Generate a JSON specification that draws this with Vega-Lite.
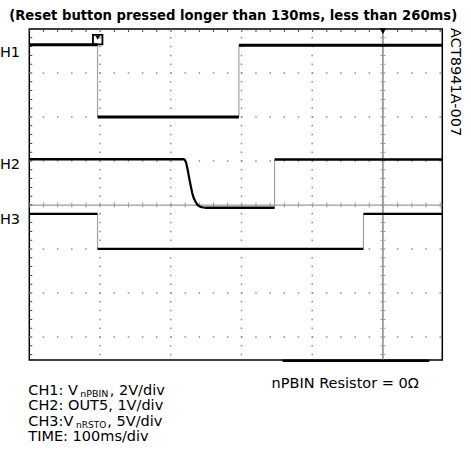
{
  "$schema": "https://vega.github.io/schema/vega-lite/v6.json",
  "width": 413,
  "height": 331,
  "autosize": {"type": "none"},
  "padding": {"left": 29.3, "top": 29, "right": 28.7, "bottom": 93},
  "background": "white",
  "config": {"view": {"stroke": "black", "strokeWidth": 1.5}, "font": "DejaVu Sans"},
  "data": {"values": [{}]},
  "datasets": {
    "hgrid": [{"v": 3}, {"v": 2}, {"v": 1}, {"v": -1}, {"v": -2}, {"v": -3}],
    "vgrid": [{"t": -400}, {"t": -300}, {"t": -200}, {"t": -100}],
    "levels": [
      {"ch": "CH1", "t1": -500, "t2": -403.5, "v": 3.64},
      {"ch": "CH1", "t1": -403.5, "t2": -203.6, "v": 2.0},
      {"ch": "CH1", "t1": -203.6, "t2": 84, "v": 3.63},
      {"ch": "CH2", "t1": -500, "t2": -280.2, "v": 1.04},
      {"ch": "CH2", "t1": -252, "t2": -153.2, "v": -0.06},
      {"ch": "CH2", "t1": -153.2, "t2": 84, "v": 1.035},
      {"ch": "CH3", "t1": -500, "t2": -403.5, "v": -0.2},
      {"ch": "CH3", "t1": -403.5, "t2": -27.5, "v": -0.995},
      {"ch": "CH3", "t1": -27.5, "t2": 84, "v": -0.2}
    ],
    "edges": [
      {"ch": "CH1", "t": -403.5, "v1": 3.64, "v2": 2.0},
      {"ch": "CH1", "t": -203.6, "v1": 2.0, "v2": 3.63},
      {"ch": "CH2", "t": -153.2, "v1": -0.06, "v2": 1.035},
      {"ch": "CH3", "t": -403.5, "v1": -0.2, "v2": -0.995},
      {"ch": "CH3", "t": -27.5, "v1": -0.995, "v2": -0.2}
    ],
    "decay": [
      {"t": -280.2, "v": 1.04},
      {"t": -278.1, "v": 0.955},
      {"t": -276.0, "v": 0.795},
      {"t": -273.9, "v": 0.614},
      {"t": -271.7, "v": 0.432},
      {"t": -269.6, "v": 0.273},
      {"t": -267.5, "v": 0.159},
      {"t": -264.7, "v": 0.068},
      {"t": -261.9, "v": 0.0},
      {"t": -257.7, "v": -0.041},
      {"t": -252.0, "v": -0.06}
    ]
  },
  "layer": [
    {
      "data": {"name": "hgrid"},
      "mark": {"type": "rule", "color": "#8c8c8c", "strokeWidth": 1.5, "strokeDash": [1.5, 12.668], "strokeDashOffset": 0.75},
      "encoding": {
        "y": {"field": "v", "type": "quantitative", "scale": {"domain": [-3.52, 4], "nice": false, "zero": false}, "axis": null},
        "x": {"datum": -500, "type": "quantitative", "scale": {"domain": [-500, 84], "nice": false, "zero": false}, "axis": null},
        "x2": {"datum": 84}
      }
    },
    {
      "data": {"name": "vgrid"},
      "mark": {"type": "rule", "color": "#8c8c8c", "strokeWidth": 1.5, "strokeDash": [1.5, 7.3], "strokeDashOffset": 0.75},
      "encoding": {
        "x": {"field": "t", "type": "quantitative", "scale": {"domain": [-500, 84], "nice": false, "zero": false}, "axis": null},
        "y": {"datum": 4, "type": "quantitative", "scale": {"domain": [-3.52, 4], "nice": false, "zero": false}, "axis": null},
        "y2": {"datum": -3.52}
      }
    },
    {
      "mark": {"type": "rule", "color": "#9a9a9a", "strokeWidth": 1.3},
      "encoding": {
        "y": {"datum": 0, "type": "quantitative", "scale": {"domain": [-3.52, 4], "nice": false, "zero": false}, "axis": null},
        "x": {"datum": -500, "type": "quantitative", "scale": {"domain": [-500, 84], "nice": false, "zero": false}, "axis": null},
        "x2": {"datum": 84}
      }
    },
    {
      "mark": {"type": "rule", "color": "#9a9a9a", "strokeWidth": 5, "strokeDash": [1, 13.168], "strokeDashOffset": 0.5},
      "encoding": {
        "y": {"datum": 0, "type": "quantitative", "scale": {"domain": [-3.52, 4], "nice": false, "zero": false}, "axis": null},
        "x": {"datum": -500, "type": "quantitative", "scale": {"domain": [-500, 84], "nice": false, "zero": false}, "axis": null},
        "x2": {"datum": 84}
      }
    },
    {
      "mark": {"type": "rule", "color": "#9a9a9a", "strokeWidth": 1.8},
      "encoding": {
        "x": {"datum": 0, "type": "quantitative", "scale": {"domain": [-500, 84], "nice": false, "zero": false}, "axis": null},
        "y": {"datum": 4, "type": "quantitative", "scale": {"domain": [-3.52, 4], "nice": false, "zero": false}, "axis": null},
        "y2": {"datum": -3.52}
      }
    },
    {
      "mark": {"type": "rule", "color": "#9a9a9a", "strokeWidth": 5, "strokeDash": [1, 7.8], "strokeDashOffset": 0.5},
      "encoding": {
        "x": {"datum": 0, "type": "quantitative", "scale": {"domain": [-500, 84], "nice": false, "zero": false}, "axis": null},
        "y": {"datum": 4, "type": "quantitative", "scale": {"domain": [-3.52, 4], "nice": false, "zero": false}, "axis": null},
        "y2": {"datum": -3.52}
      }
    },
    {
      "mark": {"type": "rule", "color": "#444444", "strokeWidth": 3, "strokeDash": [1, 7.8], "strokeDashOffset": 0.5},
      "encoding": {
        "x": {"datum": -497.9, "type": "quantitative", "scale": {"domain": [-500, 84], "nice": false, "zero": false}, "axis": null},
        "y": {"datum": 4, "type": "quantitative", "scale": {"domain": [-3.52, 4], "nice": false, "zero": false}, "axis": null},
        "y2": {"datum": -3.52}
      }
    },
    {
      "mark": {"type": "rule", "color": "#444444", "strokeWidth": 3, "strokeDash": [1, 13.168], "strokeDashOffset": 0.5},
      "encoding": {
        "y": {"datum": 3.966, "type": "quantitative", "scale": {"domain": [-3.52, 4], "nice": false, "zero": false}, "axis": null},
        "x": {"datum": -500, "type": "quantitative", "scale": {"domain": [-500, 84], "nice": false, "zero": false}, "axis": null},
        "x2": {"datum": 84}
      }
    },
    {
      "data": {"name": "edges"},
      "mark": {"type": "rule", "color": "#a0a0a0", "strokeWidth": 1.2},
      "encoding": {
        "x": {"field": "t", "type": "quantitative", "scale": {"domain": [-500, 84], "nice": false, "zero": false}, "axis": null},
        "y": {"field": "v1", "type": "quantitative", "scale": {"domain": [-3.52, 4], "nice": false, "zero": false}, "axis": null},
        "y2": {"field": "v2"}
      }
    },
    {
      "data": {"name": "levels"},
      "mark": {"type": "rule", "color": "black"},
      "encoding": {
        "x": {"field": "t1", "type": "quantitative", "scale": {"domain": [-500, 84], "nice": false, "zero": false}, "axis": null},
        "x2": {"field": "t2"},
        "y": {"field": "v", "type": "quantitative", "scale": {"domain": [-3.52, 4], "nice": false, "zero": false}, "axis": null},
        "strokeWidth": {"field": "ch", "type": "nominal", "scale": {"domain": ["CH1", "CH2", "CH3"], "range": [3, 2.2, 1.8]}, "legend": null}
      }
    },
    {
      "data": {"name": "decay"},
      "mark": {"type": "line", "color": "black", "strokeWidth": 2.2},
      "encoding": {
        "x": {"field": "t", "type": "quantitative", "scale": {"domain": [-500, 84], "nice": false, "zero": false}, "axis": null},
        "y": {"field": "v", "type": "quantitative", "scale": {"domain": [-3.52, 4], "nice": false, "zero": false}, "axis": null}
      }
    },
    {
      "mark": {"type": "point", "shape": "triangle-down", "filled": true, "color": "black", "size": 45, "opacity": 1},
      "encoding": {
        "x": {"datum": 0, "type": "quantitative", "scale": {"domain": [-500, 84], "nice": false, "zero": false}, "axis": null},
        "y": {"datum": 3.95, "type": "quantitative", "scale": {"domain": [-3.52, 4], "nice": false, "zero": false}, "axis": null}
      }
    },
    {
      "mark": {"type": "point", "shape": "square", "filled": false, "color": "black", "strokeWidth": 1.8, "size": 90, "opacity": 1},
      "encoding": {
        "x": {"datum": -403.3, "type": "quantitative", "scale": {"domain": [-500, 84], "nice": false, "zero": false}, "axis": null},
        "y": {"datum": 3.76, "type": "quantitative", "scale": {"domain": [-3.52, 4], "nice": false, "zero": false}, "axis": null}
      }
    },
    {
      "mark": {"type": "point", "shape": "triangle-down", "filled": true, "color": "black", "size": 22, "opacity": 1},
      "encoding": {
        "x": {"datum": -403.3, "type": "quantitative", "scale": {"domain": [-500, 84], "nice": false, "zero": false}, "axis": null},
        "y": {"datum": 3.8, "type": "quantitative", "scale": {"domain": [-3.52, 4], "nice": false, "zero": false}, "axis": null}
      }
    },
    {
      "mark": {"type": "rule", "color": "black", "strokeWidth": 2.5},
      "encoding": {
        "y": {"datum": -3.535, "type": "quantitative", "scale": {"domain": [-3.52, 4], "nice": false, "zero": false}, "axis": null},
        "x": {"datum": -141.9, "type": "quantitative", "scale": {"domain": [-500, 84], "nice": false, "zero": false}, "axis": null},
        "x2": {"datum": 65.6}
      }
    },
    {
      "mark": {"type": "text", "text": "(Reset button pressed longer than 130ms, less than 260ms)", "font": "DejaVu Sans", "fontWeight": "bold", "fontSize": 13.2, "align": "center", "baseline": "alphabetic", "color": "black"},
      "encoding": {
        "x": {"datum": -211.7, "type": "quantitative", "scale": {"domain": [-500, 84], "nice": false, "zero": false}, "axis": null},
        "y": {"datum": 4.205, "type": "quantitative", "scale": {"domain": [-3.52, 4], "nice": false, "zero": false}, "axis": null}
      }
    },
    {
      "mark": {"type": "text", "text": "CH1", "fontSize": 14.5, "align": "right", "baseline": "alphabetic", "color": "black"},
      "encoding": {
        "x": {"datum": -513.1, "type": "quantitative", "scale": {"domain": [-500, 84], "nice": false, "zero": false}, "axis": null},
        "y": {"datum": 3.357, "type": "quantitative", "scale": {"domain": [-3.52, 4], "nice": false, "zero": false}, "axis": null}
      }
    },
    {
      "mark": {"type": "text", "text": "CH2", "fontSize": 14.5, "align": "right", "baseline": "alphabetic", "color": "black"},
      "encoding": {
        "x": {"datum": -513.1, "type": "quantitative", "scale": {"domain": [-500, 84], "nice": false, "zero": false}, "axis": null},
        "y": {"datum": 0.816, "type": "quantitative", "scale": {"domain": [-3.52, 4], "nice": false, "zero": false}, "axis": null}
      }
    },
    {
      "mark": {"type": "text", "text": "CH3", "fontSize": 14.5, "align": "right", "baseline": "alphabetic", "color": "black"},
      "encoding": {
        "x": {"datum": -513.1, "type": "quantitative", "scale": {"domain": [-500, 84], "nice": false, "zero": false}, "axis": null},
        "y": {"datum": -0.423, "type": "quantitative", "scale": {"domain": [-3.52, 4], "nice": false, "zero": false}, "axis": null}
      }
    },
    {
      "mark": {"type": "text", "text": "ACT8941A-007", "fontSize": 14.5, "angle": 90, "align": "left", "baseline": "middle", "color": "black"},
      "encoding": {
        "x": {"datum": 101.6, "type": "quantitative", "scale": {"domain": [-500, 84], "nice": false, "zero": false}, "axis": null},
        "y": {"datum": 4.02, "type": "quantitative", "scale": {"domain": [-3.52, 4], "nice": false, "zero": false}, "axis": null}
      }
    },
    {
      "mark": {"type": "text", "text": "nPBIN Resistor = 0Ω", "fontSize": 14.5, "align": "left", "baseline": "alphabetic", "color": "black"},
      "encoding": {
        "x": {"datum": -157.4, "type": "quantitative", "scale": {"domain": [-500, 84], "nice": false, "zero": false}, "axis": null},
        "y": {"datum": -4.148, "type": "quantitative", "scale": {"domain": [-3.52, 4], "nice": false, "zero": false}, "axis": null}
      }
    },
    {
      "mark": {"type": "text", "text": "CH1: V", "fontSize": 14.5, "align": "left", "baseline": "alphabetic", "color": "black"},
      "encoding": {
        "x": {"datum": -501.4, "type": "quantitative", "scale": {"domain": [-500, 84], "nice": false, "zero": false}, "axis": null},
        "y": {"datum": -4.318, "type": "quantitative", "scale": {"domain": [-3.52, 4], "nice": false, "zero": false}, "axis": null}
      }
    },
    {
      "mark": {"type": "text", "text": "nPBIN", "fontSize": 9.5, "align": "left", "baseline": "alphabetic", "color": "black"},
      "encoding": {
        "x": {"datum": -428, "type": "quantitative", "scale": {"domain": [-500, 84], "nice": false, "zero": false}, "axis": null},
        "y": {"datum": -4.37, "type": "quantitative", "scale": {"domain": [-3.52, 4], "nice": false, "zero": false}, "axis": null}
      }
    },
    {
      "mark": {"type": "text", "text": ", 2V/div", "fontSize": 14.5, "align": "left", "baseline": "alphabetic", "color": "black"},
      "encoding": {
        "x": {"datum": -386.3, "type": "quantitative", "scale": {"domain": [-500, 84], "nice": false, "zero": false}, "axis": null},
        "y": {"datum": -4.318, "type": "quantitative", "scale": {"domain": [-3.52, 4], "nice": false, "zero": false}, "axis": null}
      }
    },
    {
      "mark": {"type": "text", "text": "CH2: OUT5, 1V/div", "fontSize": 14.5, "align": "left", "baseline": "alphabetic", "color": "black"},
      "encoding": {
        "x": {"datum": -501.4, "type": "quantitative", "scale": {"domain": [-500, 84], "nice": false, "zero": false}, "axis": null},
        "y": {"datum": -4.664, "type": "quantitative", "scale": {"domain": [-3.52, 4], "nice": false, "zero": false}, "axis": null}
      }
    },
    {
      "mark": {"type": "text", "text": "CH3:V", "fontSize": 14.5, "align": "left", "baseline": "alphabetic", "color": "black"},
      "encoding": {
        "x": {"datum": -501.4, "type": "quantitative", "scale": {"domain": [-500, 84], "nice": false, "zero": false}, "axis": null},
        "y": {"datum": -5.011, "type": "quantitative", "scale": {"domain": [-3.52, 4], "nice": false, "zero": false}, "axis": null}
      }
    },
    {
      "mark": {"type": "text", "text": "nRSTO", "fontSize": 9, "align": "left", "baseline": "alphabetic", "color": "black"},
      "encoding": {
        "x": {"datum": -434, "type": "quantitative", "scale": {"domain": [-500, 84], "nice": false, "zero": false}, "axis": null},
        "y": {"datum": -5.06, "type": "quantitative", "scale": {"domain": [-3.52, 4], "nice": false, "zero": false}, "axis": null}
      }
    },
    {
      "mark": {"type": "text", "text": " , 5V/div", "fontSize": 14.5, "align": "left", "baseline": "alphabetic", "color": "black"},
      "encoding": {
        "x": {"datum": -389.6, "type": "quantitative", "scale": {"domain": [-500, 84], "nice": false, "zero": false}, "axis": null},
        "y": {"datum": -5.011, "type": "quantitative", "scale": {"domain": [-3.52, 4], "nice": false, "zero": false}, "axis": null}
      }
    },
    {
      "mark": {"type": "text", "text": "TIME: 100ms/div", "fontSize": 14.5, "align": "left", "baseline": "alphabetic", "color": "black"},
      "encoding": {
        "x": {"datum": -501.4, "type": "quantitative", "scale": {"domain": [-500, 84], "nice": false, "zero": false}, "axis": null},
        "y": {"datum": -5.357, "type": "quantitative", "scale": {"domain": [-3.52, 4], "nice": false, "zero": false}, "axis": null}
      }
    }
  ]
}
